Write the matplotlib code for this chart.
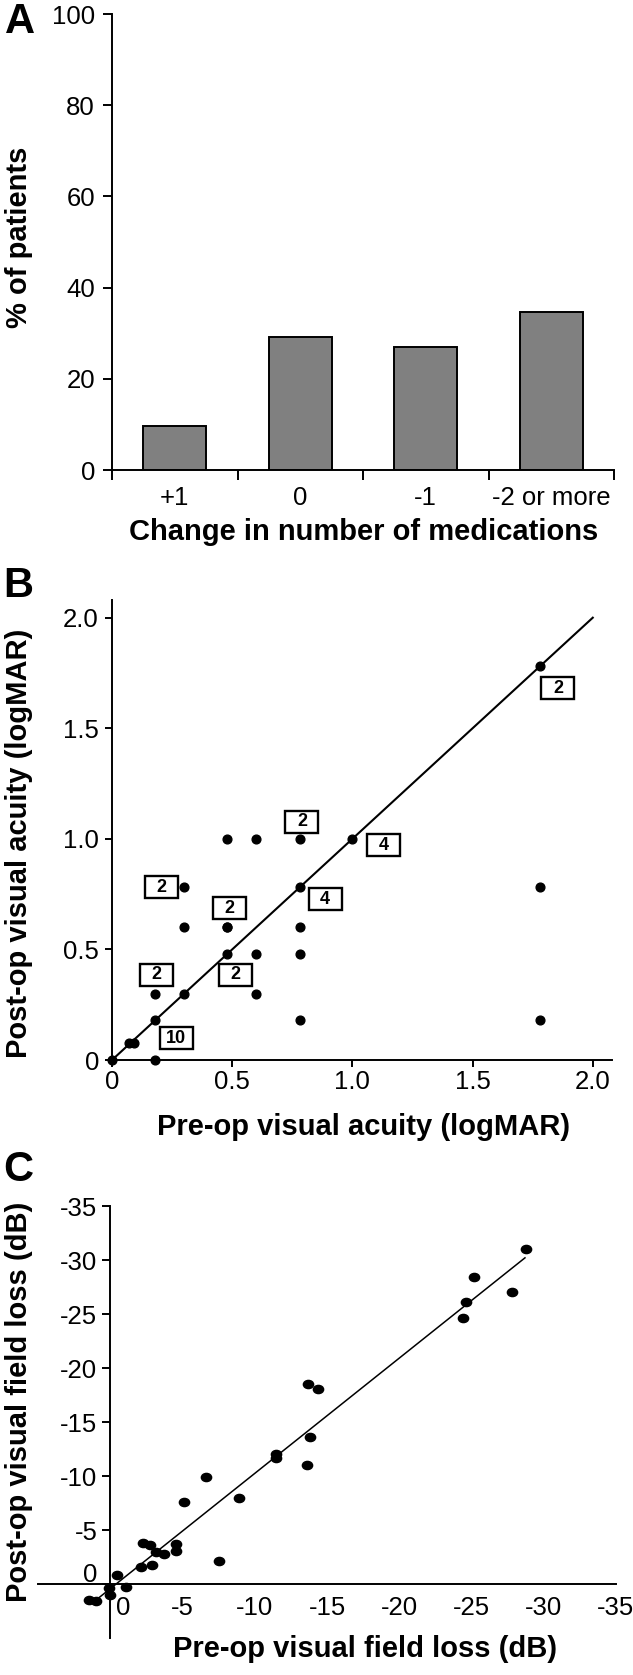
import matplotlib
matplotlib.use("Agg")
import matplotlib.pyplot as plt
import matplotlib.transforms as mtransforms
from matplotlib.patches import Rectangle
from matplotlib.path import Path
import numpy as np

plt.rcParams["font.family"] = ["Liberation Sans", "DejaVu Sans"]

# panel A: change in number of medications
med_categories = ["+1", "0", "-1", "-2 or more"]
med_percent = [9.7, 29.1, 27.0, 34.7]

# panel B: visual acuity (logMAR)
va_pre = [0.0, 0.07, 0.09, 0.18, 0.18, 0.18, 0.3, 0.3, 0.3, 0.48, 0.48, 0.48, 0.48,
          0.6, 0.6, 0.6, 0.78, 0.78, 0.78, 0.78, 0.78, 1.0, 1.78, 1.78, 1.78]
va_post = [0.0, 0.075, 0.075, 0.0, 0.18, 0.3, 0.3, 0.6, 0.78, 0.48, 0.6, 1.0, 0.6,
           0.3, 0.48, 1.0, 0.18, 0.48, 0.6, 0.78, 1.0, 1.0, 1.78, 0.78, 0.18]
count_labels = ["2", "2", "4", "2", "4", "2", "2", "2", "10"]
count_x = [1.855, 0.79, 1.13, 0.204, 0.887, 0.489, 0.186, 0.512, 0.267]
count_y = [1.68, 1.078, 0.97, 0.781, 0.727, 0.686, 0.385, 0.385, 0.098]

# panel C: visual field loss (dB)
vf_pre = [-28.8, -25.2, -24.6, -24.4, -27.8, -13.7, -14.4, -13.8, -11.5, -11.5,
          -13.6, -6.6, -8.9, -5.1, -2.3, -2.77, -3.2, -3.7, -4.57, -4.57, -7.5,
          -2.1, -2.9, -0.45, -1.07, 0.1, 0.05, 1.5, 1.0]
vf_post = [-31.0, -28.4, -26.1, -24.6, -27.0, -18.5, -18.1, -13.6, -12.0, -11.7,
           -11.0, -9.9, -8.0, -7.6, -3.8, -3.6, -3.0, -2.8, -3.7, -3.1, -2.1,
           -1.6, -1.76, -0.85, 0.3, 0.4, 1.0, 1.5, 1.6]
fit_x = [1.0, -28.7]
fit_y = [1.5, -30.2]

W, H = 633, 1675
fig = plt.figure(figsize=(W / 100, H / 100), dpi=100)


def add_axes(left, top, right, bottom):
    return fig.add_axes([left / W, 1 - bottom / H, (right - left) / W, (bottom - top) / H])


def fig_text(x, y, s, **kw):
    fig.text(x / W, 1 - y / H, s, **kw)


def px(v):
    # pixels to points
    return v * 0.72


TICK_FS = 18.5
LABEL_FS = 21
LETTER_FS = 30
LW = 1.4

# ---------------- A ----------------
ax_a = add_axes(112, 14, 614, 470)
xpos = np.arange(len(med_categories)) + 0.5
ax_a.bar(xpos, med_percent, width=0.5, color="#808080", edgecolor="black", linewidth=LW)
ax_a.set_xlim(0, 4)
ax_a.set_ylim(0, 100)
ax_a.set_yticks([0, 20, 40, 60, 80, 100])
ax_a.set_xticks([0, 1, 2, 3, 4])
ax_a.set_xticklabels([])
ax_a.set_xticks(xpos, minor=True)
ax_a.set_xticklabels(med_categories, minor=True)
ax_a.tick_params(axis="x", which="minor", length=0, labelsize=TICK_FS, pad=px(16))
ax_a.tick_params(axis="x", which="major", length=px(10), width=LW)
ax_a.tick_params(axis="y", length=px(9), width=LW, labelsize=TICK_FS, pad=px(8))
for side in ["top", "right"]:
    ax_a.spines[side].set_visible(False)
for side in ["left", "bottom"]:
    ax_a.spines[side].set_linewidth(LW)
fig_text(5, 2, "A", fontsize=LETTER_FS, fontweight="bold", va="top", ha="left")
fig_text(19, 237, "% of patients", fontsize=LABEL_FS, fontweight="bold", rotation=90,
         ha="center", va="center")
fig_text(364, 532, "Change in number of medications", fontsize=LABEL_FS, fontweight="bold",
         ha="center", va="center")

# ---------------- B ----------------
ax_b = add_axes(112, 600, 612, 1060)
ax_b.plot([0, 2.0], [0, 2.0], color="black", linewidth=1.5, zorder=2)
ax_b.plot(va_pre, va_post, "o", color="black", markersize=6.3, zorder=3, clip_on=False)
for lab, cx, cy in zip(count_labels, count_x, count_y):
    box_tr = fig.dpi_scale_trans + mtransforms.ScaledTranslation(cx, cy, ax_b.transData)
    ax_b.add_patch(Rectangle((-0.165, -0.11), 0.33, 0.22, transform=box_tr,
                             facecolor="white", edgecolor="black", linewidth=1.7, zorder=4))
    ax_b.text(cx, cy, lab, fontsize=13, fontweight="bold", ha="center", va="center", zorder=5)
ax_b.set_xlim(0, 2.08)
ax_b.set_ylim(0, 2.08)
ticks_b = [0, 0.5, 1.0, 1.5, 2.0]
tick_labels_b = ["0", "0.5", "1.0", "1.5", "2.0"]
ax_b.set_xticks(ticks_b)
ax_b.set_xticklabels(tick_labels_b)
ax_b.set_yticks(ticks_b)
ax_b.set_yticklabels(tick_labels_b)
ax_b.tick_params(axis="x", length=px(7), width=LW, labelsize=TICK_FS, pad=px(3))
ax_b.tick_params(axis="y", length=px(7), width=LW, labelsize=TICK_FS, pad=px(6))
for side in ["top", "right"]:
    ax_b.spines[side].set_visible(False)
for side in ["left", "bottom"]:
    ax_b.spines[side].set_linewidth(LW)
fig_text(3, 566, "B", fontsize=LETTER_FS, fontweight="bold", va="top", ha="left")
fig_text(19, 843, "Post-op visual acuity (logMAR)", fontsize=LABEL_FS, fontweight="bold",
         rotation=90, ha="center", va="center")
fig_text(364, 1127, "Pre-op visual acuity (logMAR)", fontsize=LABEL_FS, fontweight="bold",
         ha="center", va="center")

# ---------------- C ----------------
ax_c = add_axes(38, 1206, 616, 1638)
circle = Path.unit_circle()
ellipse = Path(circle.vertices * np.array([1.0, 0.8]), circle.codes)
ax_c.plot(fit_x, fit_y, color="black", linewidth=1.1, zorder=2)
ax_c.plot(vf_pre, vf_post, linestyle="none", marker=ellipse, color="black",
          markersize=7.4, zorder=3)
ax_c.set_xlim(5, -35)
ax_c.set_ylim(5, -35)
ticks_c = [0, -5, -10, -15, -20, -25, -30, -35]
ax_c.set_xticks(ticks_c)
ax_c.set_yticks(ticks_c)
ax_c.set_xticklabels([str(t) for t in ticks_c])
ax_c.set_yticklabels([str(t) for t in ticks_c])
ax_c.spines["left"].set_position(("data", 0))
ax_c.spines["bottom"].set_position(("data", 0))
for side in ["top", "right"]:
    ax_c.spines[side].set_visible(False)
for side in ["left", "bottom"]:
    ax_c.spines[side].set_linewidth(LW)
ax_c.tick_params(axis="y", length=px(8), width=LW, labelsize=TICK_FS, pad=px(5))
ax_c.tick_params(axis="x", length=0, width=LW, labelsize=TICK_FS, pad=px(12))
# the zero labels sit slightly off their ticks in the original
xlab0 = ax_c.get_xticklabels()[0]
xlab0.set_transform(xlab0.get_transform() + mtransforms.ScaledTranslation(13 / 100, 0, fig.dpi_scale_trans))
ylab0 = ax_c.get_yticklabels()[0]
ylab0.set_transform(ylab0.get_transform() + mtransforms.ScaledTranslation(0, 11 / 100, fig.dpi_scale_trans))
fig_text(3, 1150, "C", fontsize=LETTER_FS, fontweight="bold", va="top", ha="left")
fig_text(19, 1402, "Post-op visual field loss (dB)", fontsize=LABEL_FS, fontweight="bold",
         rotation=90, ha="center", va="center")
fig_text(365, 1649, "Pre-op visual field loss (dB)", fontsize=LABEL_FS, fontweight="bold",
         ha="center", va="center")

fig.savefig("out.png", dpi=100)
